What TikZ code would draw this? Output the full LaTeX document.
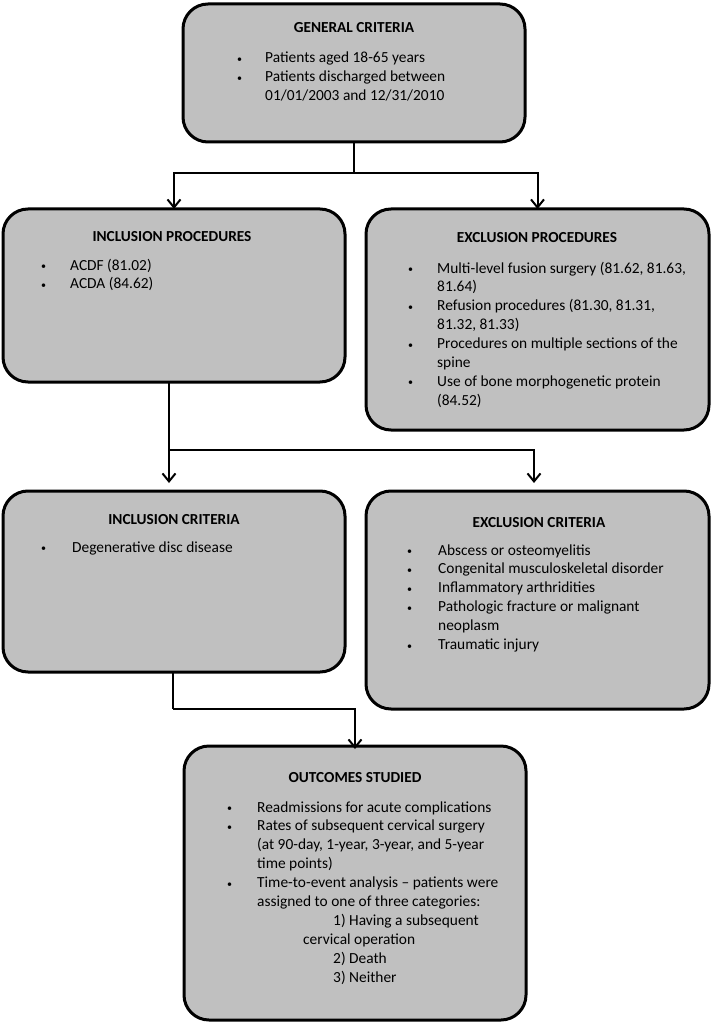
\documentclass[tikz,border=0pt]{standalone}
\usepackage{fontspec}
\setmainfont{Carlito}
\usetikzlibrary{arrows.meta}
\definecolor{boxgray}{RGB}{192,192,192}
\newcommand\blt{\raisebox{0.5pt}{\fontsize{10}{10}\selectfont•}}
\begin{document}
\begin{tikzpicture}[x=1pt,y=-1pt,
  box/.style={draw=black, line width=3pt, fill=boxgray, rounded corners=25pt,
    inner sep=0pt, outer sep=0pt, anchor=north west},
  head/.style={font=\fontsize{15.3}{18.9}\selectfont\bfseries, inner sep=0pt, anchor=base},
  body/.style={font=\fontsize{15.4}{18.9}\selectfont, inner sep=0pt, anchor=base west},
  conn/.style={line width=2pt},
  arr/.style={line width=2pt, -{Straight Barb[length=8pt,width=13pt,line width=2pt]}}
]
\useasboundingbox (0,0) rectangle (713,1024);

% boxes
\node[box, minimum width=342pt, minimum height=138pt] (gen)  at (183,4)   {};
\node[box, minimum width=342pt, minimum height=173pt] (incp) at (3,209)   {};
\node[box, minimum width=343pt, minimum height=221pt] (excp) at (366,209) {};
\node[box, minimum width=342pt, minimum height=181pt] (inc)  at (3,491)   {};
\node[box, minimum width=343pt, minimum height=218pt] (exc)  at (366,491) {};
\node[box, minimum width=342pt, minimum height=274pt] (out)  at (184,746) {};

% headings
\node[head] (genh)  at (354,33)  {GENERAL CRITERIA};
\node[head] (incph) at (172,241) {INCLUSION PROCEDURES};
\node[head] (excph) at (537,243) {EXCLUSION PROCEDURES};
\node[head] (inch)  at (174,524) {INCLUSION CRITERIA};
\node[head] (exch)  at (539,527) {EXCLUSION CRITERIA};
\node[head] (outh)  at (355,782) {OUTCOMES STUDIED};

% bodies
\node[body] (genb) at (237,63) {\begin{tabular}[t]{@{}p{28pt}@{}l@{}}
\blt&Patients aged 18-65 years\\
\blt&Patients discharged between\\
&01/01/2003 and 12/31/2010
\end{tabular}};

\node[body] (incpb) at (41,270) {\begin{tabular}[t]{@{}p{29pt}@{}l@{}}
\blt&ACDF (81.02)\\
\blt&ACDA (84.62)
\end{tabular}};

\node[body] (excpb) at (408,273) {\begin{tabular}[t]{@{}p{29pt}@{}l@{}}
\blt&Multi-level fusion surgery (81.62, 81.63,\\
&81.64)\\
\blt&Refusion procedures (81.30, 81.31,\\
&81.32, 81.33)\\
\blt&Procedures on multiple sections of the\\
&spine\\
\blt&Use of bone morphogenetic protein\\
&(84.52)
\end{tabular}};

\node[body] (incb) at (41,552) {\begin{tabular}[t]{@{}p{31pt}@{}l@{}}
\blt&Degenerative disc disease
\end{tabular}};

\node[body] (excb) at (407,555) {\begin{tabular}[t]{@{}p{31pt}@{}l@{}}
\blt&Abscess or osteomyelitis\\
\blt&Congenital musculoskeletal disorder\\
\blt&Inflammatory arthridities\\
\blt&Pathologic fracture or malignant\\
&neoplasm\\
\blt&Traumatic injury
\end{tabular}};

\node[body] (outb) at (227,812) {\begin{tabular}[t]{@{}p{30pt}@{}l@{}}
\blt&Readmissions for acute complications\\
\blt&Rates of subsequent cervical surgery\\
&(at 90-day, 1-year, 3-year, and 5-year\\
&time points)\\
\blt&Time-to-event analysis – patients were\\
&assigned to one of three categories:\\
&\hspace*{76pt}1) Having a subsequent\\
&\hspace*{46pt}cervical operation\\
&\hspace*{76pt}2) Death\\
&\hspace*{76pt}3) Neither
\end{tabular}};

% connectors
\coordinate (j1) at (354,173);
\coordinate (j2) at (169,450);
\coordinate (t2l) at (169,483);
\coordinate (t2r) at (534,483);
\coordinate (j3) at (173,709);

\draw[conn] (gen.south -| j1) -- (j1);
\draw[arr] (j1) -| (incp.north);
\draw[arr] (j1) -| (excp.north);

\draw[conn] (incp.south -| j2) -- (j2);
\draw[arr] (j2) -- (t2l);
\draw[arr] (j2) -| (t2r);

\draw[conn] (inc.south -| j3) -- (j3);
\draw[arr] (j3) -| ([yshift=-3pt]out.north);
\end{tikzpicture}
\end{document}
